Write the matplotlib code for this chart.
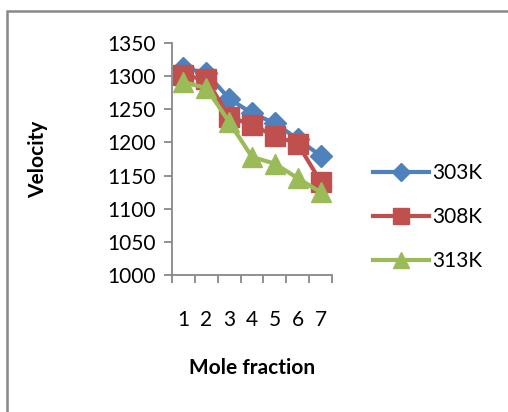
import numpy as np
import matplotlib
matplotlib.use("Agg")
import matplotlib.pyplot as plt
from matplotlib.patches import Rectangle

plt.rcParams['font.family'] = ['Lato', 'DejaVu Sans']

categories = ['1', '2', '3', '4', '5', '6', '7']
series_names = ['303K', '308K', '313K']
v_303 = [1312, 1305, 1266, 1244, 1229, 1205, 1180]
v_308 = [1301, 1295, 1239, 1226, 1210, 1198, 1141]
v_313 = [1291, 1282, 1231, 1178, 1168, 1146, 1125]

colors = ['#4F81BD', '#C0504D', '#9BBB59']
markers = ['D', 's', '^']
msizes = [11, 14, 15]

fig = plt.figure(figsize=(5.08, 4.12), dpi=100)
ax = fig.add_axes([172 / 508, 1 - 275 / 412, 160 / 508, 232 / 412])

x = np.arange(len(categories))
for vals, name, c, m, ms in zip([v_303, v_308, v_313], series_names, colors, markers, msizes):
    ax.plot(x, vals, color=c, marker=m, markersize=ms, linewidth=3, label=name)

ax.set_xlim(-0.5, len(categories) - 0.5)
ax.set_ylim(1000, 1350)
ax.set_yticks(np.arange(1000, 1351, 50))
ax.set_xticks(x)
ax.set_xticklabels(categories)
ax.set_xticks(np.arange(-0.5, len(categories), 1), minor=True)

for s in ['top', 'right']:
    ax.spines[s].set_visible(False)
for s in ['left', 'bottom']:
    ax.spines[s].set_color('#888888')
    ax.spines[s].set_linewidth(1.3)

ax.tick_params(axis='y', labelsize=15, color='#888888', length=6, width=1.3, pad=6)
ax.tick_params(axis='x', which='major', labelsize=15, length=0, pad=25)
ax.tick_params(axis='x', which='minor', color='#888888', length=6, width=1.3)

ax.set_ylabel('Velocity', fontsize=15, fontweight='bold', labelpad=42)
ax.set_xlabel('Mole fraction', fontsize=15, fontweight='bold', labelpad=20)

leg = ax.legend(loc='center left', bbox_to_anchor=(354 / 508, 1 - 217 / 412),
                bbox_transform=fig.transFigure, frameon=False, fontsize=15,
                handlelength=2.7, handletextpad=0.15, labelspacing=1.15, markerscale=0.8)

fig.patches.append(Rectangle((7 / 508, -0.1), 1.2, 1 - 11 / 412 + 0.1,
                             transform=fig.transFigure, fill=False,
                             edgecolor='#888888', linewidth=1.8))

fig.savefig('out.png', dpi=100)
